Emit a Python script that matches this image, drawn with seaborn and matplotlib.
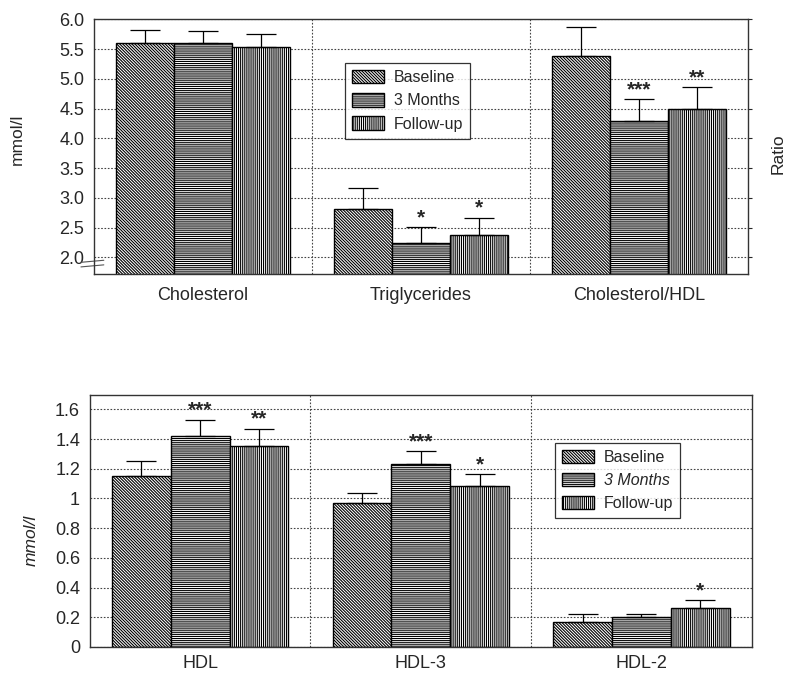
import numpy as np
import pandas as pd
import matplotlib
matplotlib.use("Agg")
import matplotlib.pyplot as plt
from matplotlib.patches import Patch
from matplotlib.ticker import FuncFormatter
import seaborn as sns

# -----------------------
# Data
# -----------------------
periods = ["Baseline", "3 Months", "Follow-up"]

top_categories = ["Cholesterol", "Triglycerides", "Cholesterol/HDL"]
top_baseline = [5.60, 2.81, 5.39]
top_3months = [5.61, 2.24, 4.30]
top_followup = [5.54, 2.37, 4.49]
top_err_baseline = [0.22, 0.36, 0.48]
top_err_3months = [0.19, 0.27, 0.36]
top_err_followup = [0.22, 0.30, 0.37]
top_stars_baseline = ["", "", ""]
top_stars_3months = ["", "*", "***"]
top_stars_followup = ["", "*", "**"]

bot_categories = ["HDL", "HDL-3", "HDL-2"]
bot_baseline = [1.15, 0.97, 0.17]
bot_3months = [1.42, 1.23, 0.20]
bot_followup = [1.35, 1.085, 0.26]
bot_err_baseline = [0.10, 0.07, 0.05]
bot_err_3months = [0.11, 0.09, 0.02]
bot_err_followup = [0.12, 0.08, 0.055]
bot_stars_baseline = ["", "", ""]
bot_stars_3months = ["***", "***", ""]
bot_stars_followup = ["**", "*", "*"]

hatches = ["\\" * 11, "-" * 8, "|" * 8]


def build_frame(categories, series, errors, stars):
    rows = []
    for p, vals, errs, st in zip(periods, series, errors, stars):
        for c, v, e, s in zip(categories, vals, errs, st):
            rows.append({"category": c, "period": p, "value": v, "err": e, "star": s})
    return pd.DataFrame(rows)


def draw_panel(ax, df, categories, ylim, yticks, fmt, xpad):
    ax.set_axisbelow(True)
    sns.barplot(data=df, x="category", y="value", hue="period",
                order=categories, hue_order=periods, errorbar=None,
                width=0.8, palette=["white"] * 3,
                edgecolor="black", linewidth=1.0, legend=False, ax=ax)

    for ci, (cont, p) in enumerate(zip(ax.containers, periods)):
        sub = df[df["period"] == p].set_index("category").loc[categories]
        for bar, (_, row) in zip(cont, sub.iterrows()):
            bar.set_hatch(hatches[ci])
            bar.set_facecolor("white")
            bar.set_edgecolor("black")
            xc = bar.get_x() + bar.get_width() / 2
            top = row["value"]
            ax.errorbar([xc], [top], yerr=[[0], [row["err"]]], fmt="none",
                        ecolor="black", elinewidth=0.9, capsize=11, capthick=0.9)
            if row["star"]:
                ax.text(xc, top + row["err"], row["star"], ha="center",
                        va="bottom", fontsize=15, fontweight="bold")

    ax.set_xlim(-0.5, 2.5)
    ax.set_ylim(*ylim)
    ax.set_yticks(yticks)
    ax.yaxis.set_major_formatter(FuncFormatter(fmt))
    ax.yaxis.grid(True, linestyle=(0, (1.5, 1.5)), color="#444444", linewidth=0.8)
    ax.xaxis.grid(False)
    for xv in (0.5, 1.5):
        ax.axvline(xv, linestyle=(0, (1.5, 1.5)), color="#444444", linewidth=0.8, zorder=0)
    ax.set_xlabel("")
    ax.set_ylabel("")
    ax.tick_params(axis="x", length=0, labelsize=13, pad=xpad)
    ax.tick_params(axis="y", length=3, labelsize=13, pad=4)
    for s in ax.spines.values():
        s.set_color("#333333")
        s.set_linewidth(1.0)


def add_legend(ax, anchor, italic_mid=False):
    handles = [Patch(facecolor="white", edgecolor="black", hatch=h, label=p)
               for h, p in zip(hatches, periods)]
    leg = ax.legend(handles=handles, loc="upper left", bbox_to_anchor=anchor,
                    borderaxespad=0, frameon=True, fancybox=False, fontsize=11.5,
                    handlelength=2.0, handleheight=0.9, labelspacing=0.5,
                    borderpad=0.45, handletextpad=0.6)
    leg.get_frame().set_edgecolor("black")
    leg.get_frame().set_linewidth(0.9)
    if italic_mid:
        leg.get_texts()[1].set_fontstyle("italic")
    return leg


def main():
    sns.set_style("white")
    plt.rcParams["font.family"] = ["Liberation Sans", "DejaVu Sans"]
    plt.rcParams["hatch.linewidth"] = 0.8

    fig = plt.figure(figsize=(7.88, 6.75), dpi=100)
    ax_top = fig.add_axes([0.1193, 0.594, 0.830, 0.378])
    ax_bot = fig.add_axes([0.114, 0.0415, 0.840, 0.373])

    df_top = build_frame(top_categories,
                         [top_baseline, top_3months, top_followup],
                         [top_err_baseline, top_err_3months, top_err_followup],
                         [top_stars_baseline, top_stars_3months, top_stars_followup])
    df_bot = build_frame(bot_categories,
                         [bot_baseline, bot_3months, bot_followup],
                         [bot_err_baseline, bot_err_3months, bot_err_followup],
                         [bot_stars_baseline, bot_stars_3months, bot_stars_followup])

    draw_panel(ax_top, df_top, top_categories, (1.72, 6.01),
               np.arange(2.0, 6.01, 0.5), lambda v, _: f"{v:.1f}", xpad=9)
    draw_panel(ax_bot, df_bot, bot_categories, (0, 1.695),
               np.arange(0, 1.61, 0.2), lambda v, _: f"{round(v, 1):g}", xpad=6)

    # right-hand ticks for the ratio scale
    ax_top.tick_params(axis="y", right=True, direction="out")
    ax_top.tick_params(axis="y", which="both", labelright=False)

    # axis break mark on the top panel
    for dy in (0.0, 0.018):
        ax_top.plot([-0.02, 0.015], [0.028 + dy, 0.036 + dy], transform=ax_top.transAxes,
                    color="#555555", linewidth=0.8, clip_on=False)

    add_legend(ax_top, (0.384, 0.827))
    add_legend(ax_bot, (0.703, 0.812), italic_mid=True)

    fig.text(0.022, 0.793, "mmol/l", rotation=90, ha="center", va="center", fontsize=12.5)
    fig.text(0.040, 0.200, "mmol/l", rotation=90, ha="center", va="center",
             fontsize=12.5, fontstyle="italic")
    fig.text(0.987, 0.772, "Ratio", rotation=90, ha="center", va="center", fontsize=12.5)

    fig.savefig("out.png", dpi=100)
    plt.close(fig)


if __name__ == "__main__":
    main()
